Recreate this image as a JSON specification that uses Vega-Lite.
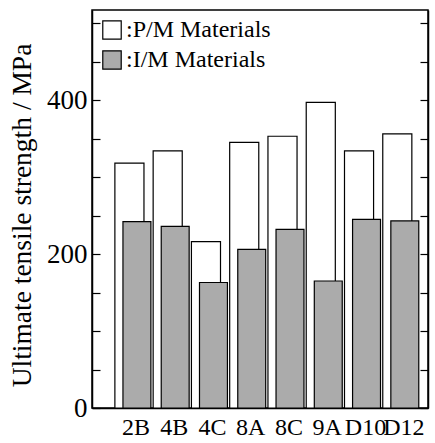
{
  "$schema": "https://vega.github.io/schema/vega-lite/v6.json",
  "autosize": {"type": "none"},
  "padding": {"left": 92, "top": 10, "right": 7, "bottom": 35},
  "width": 336,
  "height": 398,
  "config": {
    "view": {"stroke": "black", "strokeWidth": 1.5},
    "font": "Liberation Serif",
    "axis": {"labelFont": "Liberation Serif", "titleFont": "Liberation Serif"},
    "legend": {"labelFont": "Liberation Serif"}
  },
  "data": {
    "values": [
      {"alloy": "2B", "material": "P/M Materials", "strength": 318},
      {"alloy": "4B", "material": "P/M Materials", "strength": 334},
      {"alloy": "4C", "material": "P/M Materials", "strength": 216},
      {"alloy": "8A", "material": "P/M Materials", "strength": 345},
      {"alloy": "8C", "material": "P/M Materials", "strength": 353},
      {"alloy": "9A", "material": "P/M Materials", "strength": 397},
      {"alloy": "D10", "material": "P/M Materials", "strength": 334},
      {"alloy": "D12", "material": "P/M Materials", "strength": 356},
      {"alloy": "2B", "material": "I/M Materials", "strength": 242},
      {"alloy": "4B", "material": "I/M Materials", "strength": 236},
      {"alloy": "4C", "material": "I/M Materials", "strength": 163},
      {"alloy": "8A", "material": "I/M Materials", "strength": 206},
      {"alloy": "8C", "material": "I/M Materials", "strength": 232},
      {"alloy": "9A", "material": "I/M Materials", "strength": 165},
      {"alloy": "D10", "material": "I/M Materials", "strength": 245},
      {"alloy": "D12", "material": "I/M Materials", "strength": 243}
    ]
  },
  "encoding": {
    "x": {
      "field": "alloy",
      "type": "nominal",
      "sort": ["2B", "4B", "4C", "8A", "8C", "9A", "D10", "D12"],
      "scale": {"paddingInner": 0, "paddingOuter": 0.39, "align": 0.73},
      "axis": {
        "title": null,
        "ticks": false,
        "labelAngle": 0,
        "labelFont": "Liberation Serif",
        "labelFontSize": 24,
        "labelColor": "black",
        "labelPadding": 7,
        "labelOffset": 3,
        "labelOverlap": false,
        "labelBound": false,
        "labelFlush": false,
        "domainColor": "black",
        "domainWidth": 1.5
      }
    },
    "y": {
      "field": "strength",
      "type": "quantitative",
      "scale": {"domain": [0, 517], "nice": false, "zero": true}
    },
    "fill": {
      "field": "material",
      "type": "nominal",
      "scale": {"domain": ["P/M Materials", "I/M Materials"], "range": ["white", "#ababab"]},
      "legend": {
        "title": null,
        "orient": "top-left",
        "offset": 8,
        "padding": 0,
        "rowPadding": 6,
        "symbolType": "square",
        "symbolSize": 340,
        "symbolStrokeColor": "black",
        "symbolStrokeWidth": 1.2,
        "symbolOpacity": 1,
        "labelFont": "Liberation Serif",
        "labelFontSize": 24,
        "labelColor": "black",
        "labelOffset": 2,
        "labelExpr": "':' + datum.label"
      }
    }
  },
  "layer": [
    {
      "transform": [{"filter": "datum.material === 'P/M Materials'"}],
      "mark": {"type": "bar", "width": {"band": 0.76}, "xOffset": -3.5, "stroke": "black", "strokeWidth": 1.2, "opacity": 1},
      "encoding": {
        "y": {
          "field": "strength",
          "type": "quantitative",
          "axis": {
            "orient": "left",
            "values": [0, 50, 100, 150, 200, 250, 300, 350, 400, 450, 500],
            "labelExpr": "datum.value % 200 === 0 ? datum.label : ''",
            "grid": false,
            "tickSize": -8,
            "tickColor": "black",
            "tickWidth": 1.2,
            "labelPadding": 13,
            "labelFont": "Liberation Serif",
            "labelFontSize": 27,
            "labelColor": "black",
            "labelBound": false,
            "labelFlush": false,
            "labelOverlap": false,
            "domainColor": "black",
            "domainWidth": 1.5,
            "title": "Ultimate tensile strength / MPa",
            "titleFont": "Liberation Serif",
            "titleFontSize": 27.5,
            "titleFontWeight": "normal",
            "titleColor": "black",
            "titleX": -62,
            "titleY": 205,
            "titleBaseline": "alphabetic"
          }
        }
      }
    },
    {
      "transform": [{"filter": "datum.material === 'I/M Materials'"}],
      "mark": {"type": "bar", "width": {"band": 0.73}, "xOffset": 4, "stroke": "black", "strokeWidth": 1.2, "opacity": 1},
      "encoding": {
        "y": {
          "field": "strength",
          "type": "quantitative",
          "axis": {
            "orient": "right",
            "values": [0, 50, 100, 150, 200, 250, 300, 350, 400, 450, 500],
            "labels": false,
            "grid": false,
            "tickSize": -8,
            "tickColor": "black",
            "tickWidth": 1.2,
            "domainColor": "black",
            "domainWidth": 1.5,
            "title": null
          }
        }
      }
    }
  ],
  "resolve": {"axis": {"y": "independent"}}
}
